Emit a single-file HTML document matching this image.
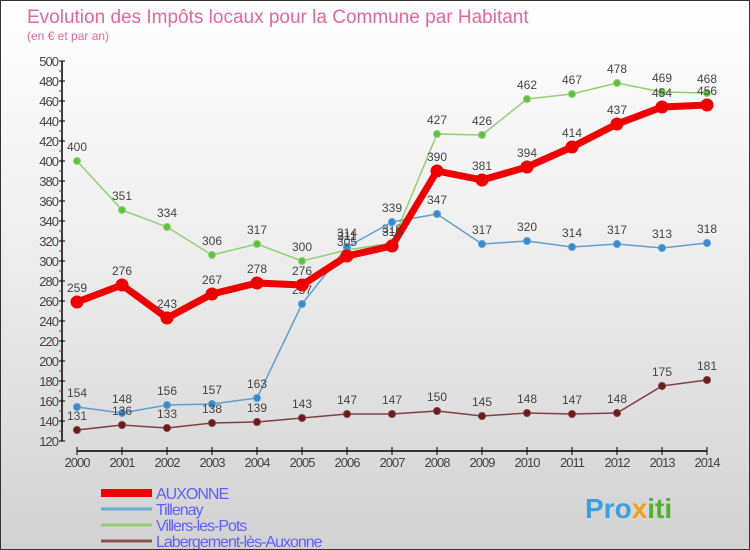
<!DOCTYPE html>
<html><head><meta charset="utf-8"><style>
body{margin:0}
#c{width:750px;height:550px;position:relative;overflow:hidden;font-family:"Liberation Sans",sans-serif;background:linear-gradient(#fff 0%,#f0f0f0 40%,#d2d2d2 100%);box-sizing:border-box;border:1px solid #333;}
</style></head><body>
<div id="c">
<svg id="s" width="750" height="550" style="position:absolute;left:0;top:0">
<text x="26" y="22" font-size="19" fill="#e0689e">Evolution des Impôts locaux pour la Commune par Habitant</text>
<text x="26" y="39" font-size="12" fill="#e0689e">(en € et par an)</text>
<text x="584" y="517" font-size="28" font-weight="bold" fill="#3aa0e0">Pro<tspan fill="#f0a020">x</tspan><tspan fill="#50b030">iti</tspan></text>
</svg>
</div>
<script>
const years=[2000,2001,2002,2003,2004,2005,2006,2007,2008,2009,2010,2011,2012,2013,2014];
const auxonne=[259,276,243,267,278,276,305,315,390,381,394,414,437,454,456];
const tillenay=[154,148,156,157,163,257,314,339,347,317,320,314,317,313,318];
const villers=[400,351,334,306,317,300,311,318,427,426,462,467,478,469,468];
const laberg=[131,136,133,138,139,143,147,147,150,145,148,147,148,175,181];
const yTicks=[120,140,160,180,200,220,240,260,280,300,320,340,360,380,400,420,440,460,480,500];
const names=["AUXONNE","Tillenay","Villers-les-Pots","Labergement-lès-Auxonne"];
const NS="http://www.w3.org/2000/svg",svg=document.getElementById('s');
const X=i=>76+i*45, Y=v=>60+(500-v);
function el(t,a,p){const e=document.createElementNS(NS,t);for(const k in a)e.setAttribute(k,a[k]);(p||svg).appendChild(e);return e;}
let e=el('line',{x1:61,y1:60,x2:61,y2:440,stroke:'#000','stroke-width':1.5});


e=el('line',{x1:76,y1:450,x2:706,y2:450,stroke:'#000','stroke-width':1.5});


yTicks.forEach(v=>{
 el('line',{x1:58,y1:Y(v),x2:64,y2:Y(v),stroke:'#000'});
 if(v<500) el('line',{x1:58,y1:Y(v+10),x2:61,y2:Y(v+10),stroke:'#f00'});
 const t=el('text',{x:57,y:Y(v)+5,'font-size':13,fill:'#444','text-anchor':'end','letter-spacing':'-1'});
 t.textContent=v;
 
 
});
years.forEach((y,i)=>{
 el('line',{x1:X(i),y1:446,x2:X(i),y2:454,stroke:'#000'});
 const t=el('text',{x:X(i),y:466,'font-size':13,fill:'#444','text-anchor':'middle','letter-spacing':'-1'});
 t.textContent=y;
 
 
});
function series(d,col,w,r,fill,nm){
 const g=el('g',{});
 
 
 el('polyline',{points:d.map((v,i)=>X(i)+','+Y(v)).join(' '),fill:'none',stroke:col,'stroke-width':w,'stroke-linejoin':'round'},g);
 d.forEach((v,i)=>{
  const c=el('circle',{cx:X(i),cy:Y(v),r:r,fill:fill,stroke:col,'stroke-width':1},g);
  
  
  const t=el('text',{x:X(i),y:Y(v)-10,'font-size':12,fill:'#444','text-anchor':'middle'},g);
  t.textContent=v;
 });
}
series(villers,'#90d070',1.5,3.5,'#60c040','villers');
series(tillenay,'#5fa0d0',1.5,3.5,'#3a8ad0','tillenay');
series(laberg,'#804040',1.5,3.5,'#6a1a1a','labergement');
series(auxonne,'#ee0000',7,6,'#ee0000','auxonne');
const lc=['#ee0000','#6aaad8','#90d070','#905050'],lw=[8,3,3,3];
names.forEach((n,i)=>{
 const y=492+i*16;
 el('line',{x1:100,y1:y,x2:151,y2:y,stroke:lc[i],'stroke-width':lw[i]});
 const t=el('text',{x:155,y:y+6,'font-size':16,fill:'#6060ff','letter-spacing':'-1'});
 t.textContent=n;
 
 
});
</script>
</body></html>
